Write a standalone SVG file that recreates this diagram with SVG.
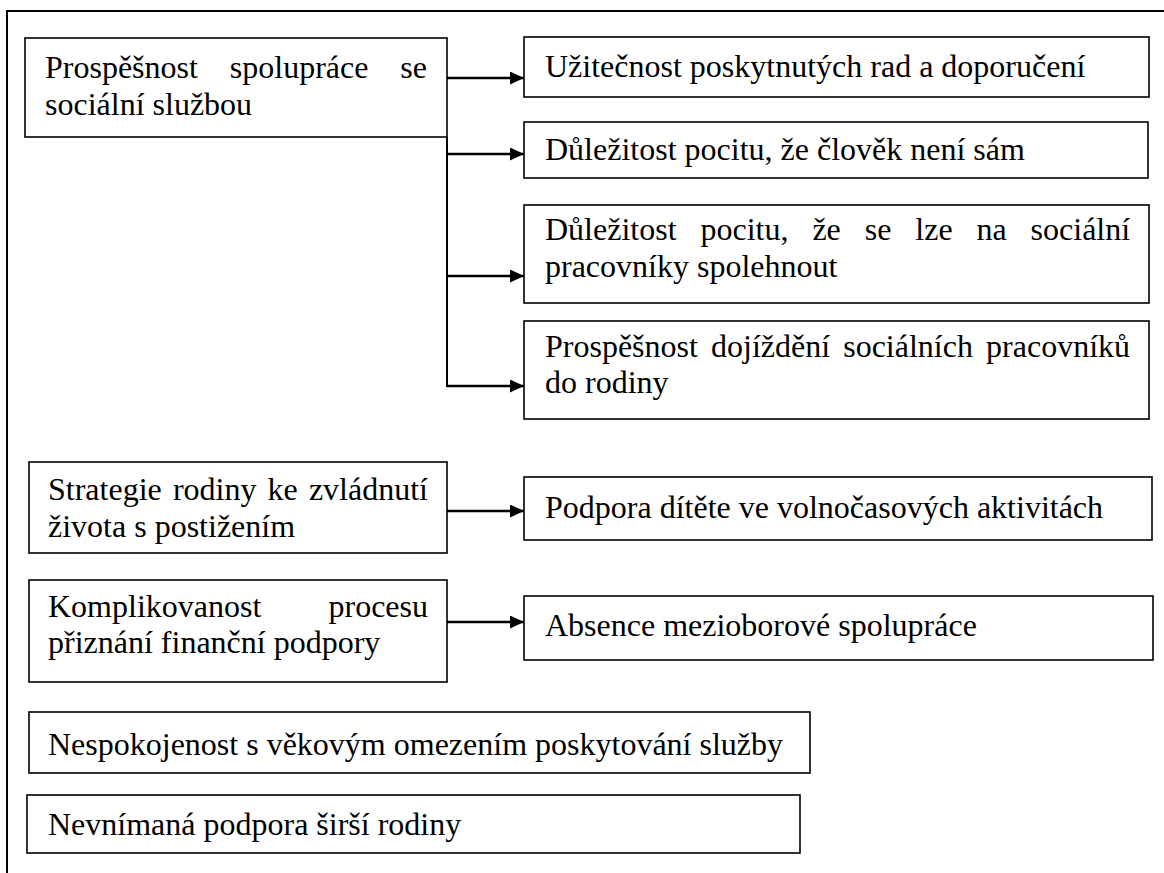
<svg xmlns="http://www.w3.org/2000/svg" width="1164" height="873" viewBox="0 0 1164 873">
  <style>
    .box { fill: #ffffff; stroke: #000000; stroke-width: 1.6; }
    .frame { fill: none; stroke: #000000; stroke-width: 2; }
    .conn { fill: none; stroke: #000000; stroke-width: 2.6; }
    .trunk { fill: none; stroke: #000000; stroke-width: 2; }
    .lbl { font-family: "Liberation Serif", "Times New Roman", serif; font-size: 32px; fill: #000000; }
  </style>
  <defs>
    <marker id="arrow" viewBox="0 0 14 13" refX="14" refY="6.5" markerWidth="14" markerHeight="13" markerUnits="userSpaceOnUse" orient="auto">
      <path d="M0,0 L14,6.5 L0,13 Z" fill="#000000"/>
    </marker>
  </defs>

  <!-- page frame (top and left rules) -->
  <path class="frame" d="M7,873 L7,11 L1164,11"/>

  <!-- connectors -->
  <g id="connectors">
    <line class="trunk" x1="447" y1="137" x2="447" y2="387"/>
    <line class="conn" x1="447" y1="78" x2="524" y2="78" marker-end="url(#arrow)"/>
    <line class="conn" x1="447" y1="154" x2="524" y2="154" marker-end="url(#arrow)"/>
    <line class="conn" x1="447" y1="276" x2="524" y2="276" marker-end="url(#arrow)"/>
    <line class="conn" x1="447" y1="386" x2="524" y2="386" marker-end="url(#arrow)"/>
    <line class="conn" x1="447" y1="511" x2="524" y2="511" marker-end="url(#arrow)"/>
    <line class="conn" x1="447" y1="622" x2="524" y2="622" marker-end="url(#arrow)"/>
  </g>

  <!-- left column -->
  <g id="prospesnost-spoluprace">
    <rect class="box" x="25" y="38" width="422" height="99"/>
    <text class="lbl" y="78"><tspan x="45">Prospěšnost</tspan><tspan x="229.8">spolupráce</tspan><tspan x="400.3">se</tspan></text>
    <text class="lbl" x="45" y="115">sociální službou</text>
  </g>

  <g id="strategie-rodiny">
    <rect class="box" x="29" y="462" width="418" height="91"/>
    <text class="lbl" y="500"><tspan x="48">Strategie</tspan><tspan x="172.9">rodiny</tspan><tspan x="267.6">ke</tspan><tspan x="308.9">zvládnutí</tspan></text>
    <text class="lbl" x="48" y="537">života s postižením</text>
  </g>

  <g id="komplikovanost-procesu">
    <rect class="box" x="29" y="580" width="418" height="102"/>
    <text class="lbl" y="617"><tspan x="48">Komplikovanost</tspan><tspan x="328.5">procesu</tspan></text>
    <text class="lbl" x="48" y="653">přiznání finanční podpory</text>
  </g>

  <g id="nespokojenost">
    <rect class="box" x="29" y="712" width="781" height="61"/>
    <text class="lbl" x="48" y="755">Nespokojenost s věkovým omezením poskytování služby</text>
  </g>

  <g id="nevnimana-podpora">
    <rect class="box" x="27" y="795" width="773" height="58"/>
    <text class="lbl" x="48" y="835">Nevnímaná podpora širší rodiny</text>
  </g>

  <!-- right column -->
  <g id="uzitecnost-rad">
    <rect class="box" x="524" y="37" width="625" height="60"/>
    <text class="lbl" x="545" y="77">Užitečnost poskytnutých rad a doporučení</text>
  </g>

  <g id="clovek-neni-sam">
    <rect class="box" x="524" y="122" width="624" height="56"/>
    <text class="lbl" x="545" y="160">Důležitost pocitu, že člověk není sám</text>
  </g>

  <g id="lze-se-spolehnout">
    <rect class="box" x="524" y="205" width="625" height="98"/>
    <text class="lbl" y="240"><tspan x="545">Důležitost</tspan><tspan x="700.5">pocitu,</tspan><tspan x="812.4">že</tspan><tspan x="864.7">se</tspan><tspan x="915.3">lze</tspan><tspan x="976.5">na</tspan><tspan x="1030.6">sociální</tspan></text>
    <text class="lbl" x="545" y="277">pracovníky spolehnout</text>
  </g>

  <g id="dojizdeni">
    <rect class="box" x="524" y="321" width="625" height="98"/>
    <text class="lbl" y="357"><tspan x="545">Prospěšnost</tspan><tspan x="711">dojíždění</tspan><tspan x="843.2">sociálních</tspan><tspan x="986.1">pracovníků</tspan></text>
    <text class="lbl" x="545" y="393">do rodiny</text>
  </g>

  <g id="volnocasove-aktivity">
    <rect class="box" x="524" y="477" width="628" height="63"/>
    <text class="lbl" x="545" y="518">Podpora dítěte ve volnočasových aktivitách</text>
  </g>

  <g id="mezioborova-spoluprace">
    <rect class="box" x="524" y="596" width="629" height="64"/>
    <text class="lbl" x="545" y="636">Absence mezioborové spolupráce</text>
  </g>
</svg>
